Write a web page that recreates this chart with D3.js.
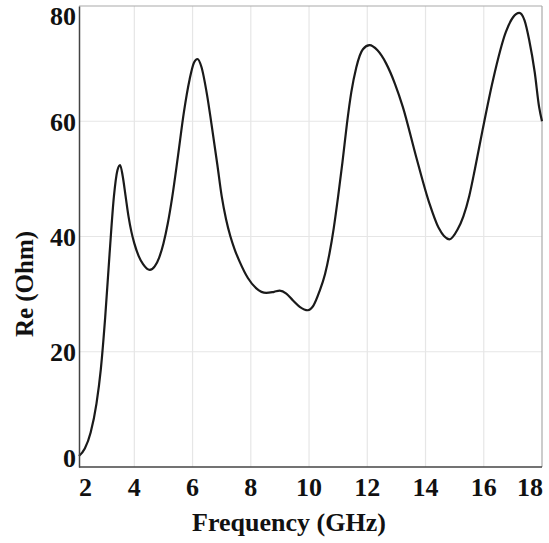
<!DOCTYPE html>
<html>
<head>
<meta charset="utf-8">
<script src="https://cdn.jsdelivr.net/npm/d3@7"></script>
<style>
  body { margin: 0; background: #fff; }
  svg text { font-family: "Liberation Serif", "Times New Roman", serif; font-weight: bold; fill: #111; }
</style>
</head>
<body>
<div id="chart"></div>
<script>
// data
var freq = [2.1, 2.3, 2.5, 2.7, 2.85, 3.0, 3.15, 3.3, 3.42, 3.51, 3.6, 3.7, 3.8, 3.9, 4.0,
  4.15, 4.3, 4.53, 4.7, 4.85, 5.0, 5.15, 5.3, 5.5, 5.7, 5.9, 6.05, 6.17, 6.3, 6.5, 6.65, 6.85,
  7.0, 7.15, 7.3, 7.45, 7.62, 7.9, 8.19, 8.53, 8.8, 8.99, 9.22, 9.45, 9.68, 9.96, 10.15, 10.36,
  10.55, 10.7, 10.85, 11.0, 11.15, 11.3, 11.45, 11.62, 11.85, 12.08, 12.35, 12.65, 12.95, 13.22,
  13.68, 14.13, 14.45, 14.82, 15.1, 15.3, 15.5, 15.7, 15.96, 16.31, 16.76, 17.0, 17.22, 17.4,
  17.56, 17.75, 17.9, 18.0]
var re = [1.9, 3.2, 6, 11, 17, 26, 37, 47, 51.5, 52.4, 50.5, 47, 43.5, 40.8, 38.8,
  36.6, 35.2, 34.2, 34.8, 36.3, 38.8, 42.3, 46.8, 54, 61.5, 67.3, 70.2, 70.8, 69.5, 64.5, 59.5, 52.5,
  47, 43, 40, 37.7, 35.6, 32.8, 31, 30.2, 30.4, 30.6, 30.1, 28.9, 27.8, 27.2, 28, 30.5,
  33.5, 37, 41.5, 47, 53, 59.5, 65, 69.3, 72.5, 73.2, 72.3, 70, 66.5, 62.5,
  53.8, 45.8, 41.5, 39.5, 41.2, 43.5, 47, 51.8, 58.5, 67, 75.5, 78, 78.8, 77.5,
  74.1, 68.5, 62.5, 60]
var xTicks = [2, 4, 6, 8, 10, 12, 14, 16, 18]
var yTicks = [0, 20, 40, 60, 80]

var width = 549
var height = 543
var padL = 79, padR = 542, padT = 6, padB = 467

var x = d3.scaleLinear().domain([2.1, 18]).range([padL, padR])
var y = d3.scaleLinear().domain([0, 80]).range([padB, padT])

var svg = d3.select('#chart').append('svg')
  .attr('width', width)
  .attr('height', height)

// grid
svg.append('g')
  .selectAll('line')
  .data(xTicks.filter(d => d > 2.1 && d < 18))
  .enter().append('line')
  .attr('x1', d => x(d)).attr('x2', d => x(d))
  .attr('y1', padT).attr('y2', padB)
  .attr('stroke', '#e6e6e6')
  .attr('stroke-width', 1.2)

svg.append('g')
  .selectAll('line')
  .data(yTicks.filter(d => d > 0 && d < 80))
  .enter().append('line')
  .attr('x1', padL).attr('x2', padR)
  .attr('y1', d => y(d)).attr('y2', d => y(d))
  .attr('stroke', '#e6e6e6')
  .attr('stroke-width', 1.2)

// frame
svg.append('line').attr('x1', padL).attr('x2', padR).attr('y1', padT).attr('y2', padT)
  .attr('stroke', '#aaa').attr('stroke-width', 1.2)
svg.append('line').attr('x1', padR).attr('x2', padR).attr('y1', padT).attr('y2', padB)
  .attr('stroke', '#aaa').attr('stroke-width', 1.2)

// curve
var line = d3.line()
  .x((d, i) => x(freq[i]))
  .y(d => y(d))
  .curve(d3.curveMonotoneX)

svg.append('path')
  .datum(re)
  .attr('d', line)
  .attr('fill', 'none')
  .attr('stroke', '#1a1a1a')
  .attr('stroke-width', 2.2)

// axes
var xAxis = svg.append('g')
  .attr('transform', `translate(0, ${padB})`)
  .call(d3.axisBottom(x).tickValues(xTicks).tickSize(0).tickPadding(10))
xAxis.select('.domain').attr('stroke', '#444').attr('stroke-width', 1.5)
  .attr('d', `M${padL},0H${padR}`)
xAxis.selectAll('.tick').attr('transform', d => `translate(${x(d)},0)`)
xAxis.selectAll('.tick text')
  .attr('font-size', '26px')
  .attr('font-family', null)
  .attr('fill', null)
  .attr('y', 12)
  .attr('dy', '0.66em')
  .attr('text-anchor', d => d <= 2 ? 'start' : d >= 18 ? 'end' : 'middle')
  .attr('x', d => d <= 2 ? padL - x(d) : d >= 18 ? padR - x(d) + 1 : 0)

var yAxis = svg.append('g')
  .attr('transform', `translate(${padL}, 0)`)
  .call(d3.axisLeft(y).tickValues(yTicks).tickSize(0).tickPadding(3))
yAxis.select('.domain').attr('stroke', '#444').attr('stroke-width', 1.5)
yAxis.selectAll('.tick text')
  .attr('font-size', '26px')
  .attr('font-family', null)
  .attr('fill', null)
  .attr('dy', d => d === 0 ? '-0.02em' : d === 80 ? '0.72em' : '0.35em')

// titles
svg.append('text')
  .attr('x', 289)
  .attr('y', 531)
  .attr('text-anchor', 'middle')
  .attr('font-size', '26px')
  .text('Frequency (GHz)')

svg.append('text')
  .attr('transform', 'translate(33, 284) rotate(-90)')
  .attr('text-anchor', 'middle')
  .attr('font-size', '25px')
  .text('Re (Ohm)')
</script>
</body>
</html>
